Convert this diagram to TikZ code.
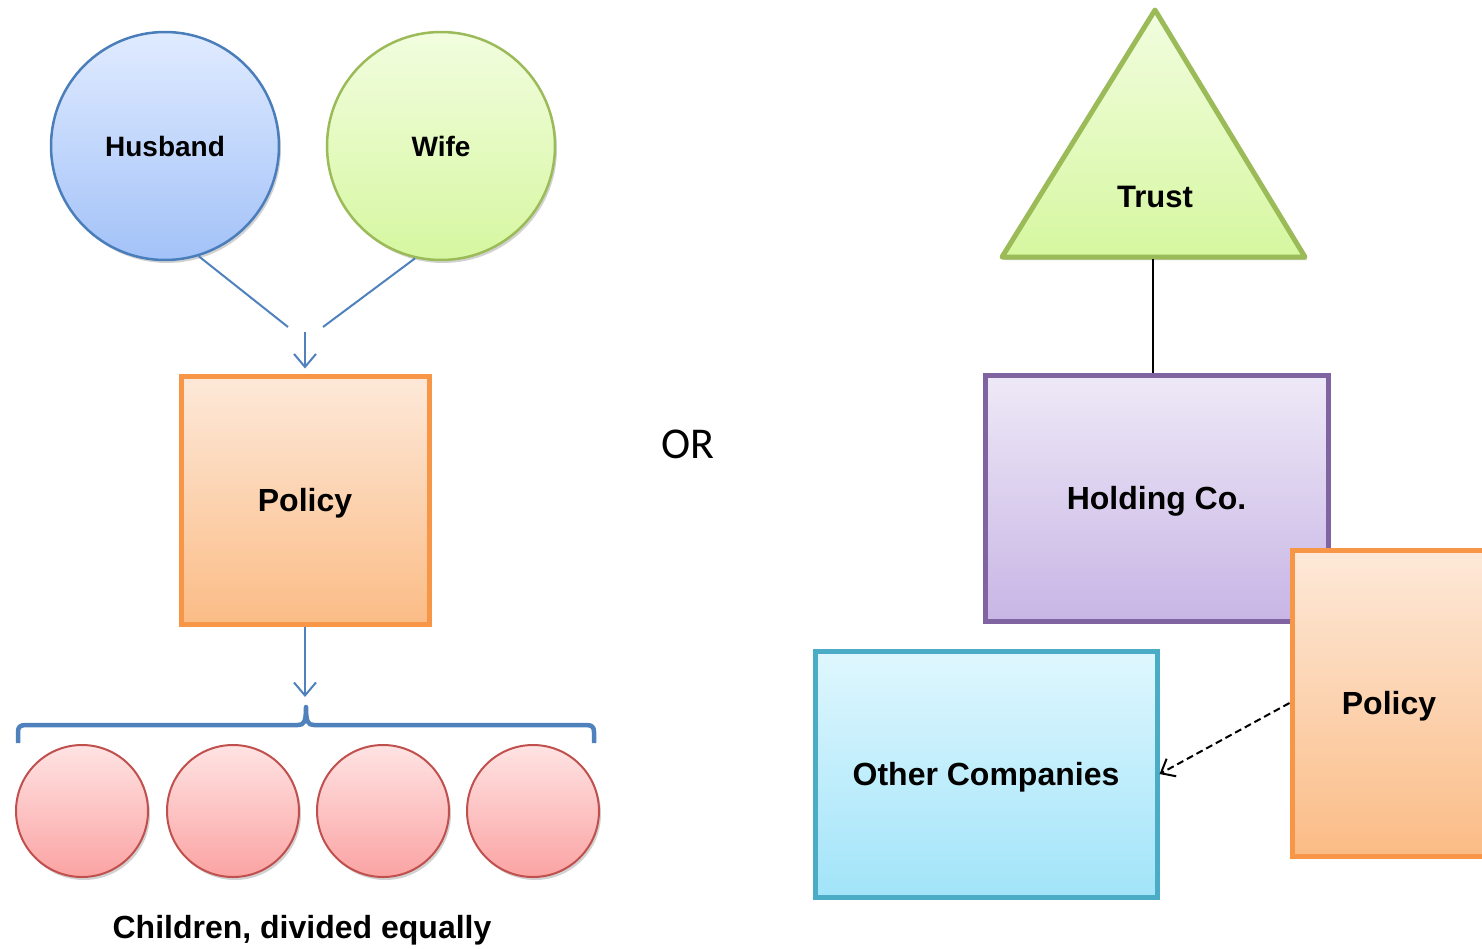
\documentclass[tikz,border=0pt]{standalone}
\usepackage{fontspec}
\setmainfont{Liberation Sans}
\newfontfamily\orfont{Carlito}
\usetikzlibrary{arrows.meta,shadows}
\definecolor{bluebd}{HTML}{4A7EBB}
\definecolor{greenbd}{HTML}{9BBB59}
\definecolor{orangebd}{HTML}{F79646}
\definecolor{purplebd}{HTML}{8064A2}
\definecolor{cyanbd}{HTML}{4BACC6}
\definecolor{redbd}{HTML}{C0504D}
\definecolor{blueT}{HTML}{E0EBFF}\definecolor{blueB}{HTML}{A3C2F8}
\definecolor{greenT}{HTML}{F2FDDF}\definecolor{greenB}{HTML}{D6F7A0}
\definecolor{orangeT}{HTML}{FDE9D9}\definecolor{orangeB}{HTML}{FBBC86}
\definecolor{purpleT}{HTML}{EEE9F7}\definecolor{purpleB}{HTML}{C8B5E5}
\definecolor{cyanT}{HTML}{DFF7FE}\definecolor{cyanB}{HTML}{A2E4F9}
\definecolor{redT}{HTML}{FFE3E3}\definecolor{redB}{HTML}{FBA3A3}
\definecolor{connblue}{HTML}{4F81BD}
\begin{document}
\begin{tikzpicture}[x=1pt,y=-1pt,
  shad/.style={drop shadow={opacity=0.25,shadow xshift=2pt,shadow yshift=-3pt,fill=black!70}},
  bigcirc/.style={circle,minimum size=228pt,inner sep=0pt,line width=2.5pt,shad,
    font=\bfseries\fontsize{28}{32}\selectfont},
  kidcirc/.style={circle,minimum size=132pt,inner sep=0pt,line width=2pt,shad,
    draw=redbd,top color=redT,bottom color=redB},
  boxnode/.style={rectangle,inner sep=0pt,line width=5pt,shad,text depth=0pt,
    font=\bfseries\fontsize{32}{38}\selectfont},
  conn/.style={draw=connblue,line width=2pt},
  arr/.style={conn,-{Straight Barb[length=13pt,width=22pt,line width=2pt]}},
]
\useasboundingbox (0,0) rectangle (1482,948);

% left part
\node[bigcirc,draw=bluebd,top color=blueT,bottom color=blueB] (husband) at (165,146) {Husband};
\node[bigcirc,draw=greenbd,top color=greenT,bottom color=greenB] (wife) at (441,146) {Wife};
\node[boxnode,draw=orangebd,top color=orangeT,bottom color=orangeB,minimum width=248pt,minimum height=248pt] (policyL) at (305,500) {Policy};

\coordinate (hj) at (288,327);
\coordinate (wj) at (323,327);
\coordinate (aj) at (305,332);
\draw[conn] (husband.-73) -- (hj);
\draw[conn] (wife.-103) -- (wj);
\draw[arr,shorten >=5pt] (aj) -- (policyL.north);

\coordinate (bt) at (305,697);
\draw[arr] (policyL.south) -- (bt);

\draw[draw=connblue,line width=4.5pt,line join=round]
  (18,743) -- (18,732) .. controls (18,727) and (20,725) .. (26,725) -- (298,725)
  .. controls (304,725) and (306,722) .. (306,707)
  .. controls (306,722) and (308,725) .. (314,725) -- (586,725)
  .. controls (592,725) and (594,727) .. (594,732) -- (594,743);

\node[kidcirc] (k1) at (82,811) {};
\node[kidcirc] (k2) at (233,811) {};
\node[kidcirc] (k3) at (383,811) {};
\node[kidcirc] (k4) at (533,811) {};
\node[font=\bfseries\fontsize{32}{38}\selectfont,text depth=0pt] (kids) at (302,927) {Children, divided equally};

% middle
\node[font=\orfont\fontsize{44}{50}\selectfont] (or) at (688,444) {OR};

% right part
\draw[line width=5pt,line join=round,draw=greenbd,top color=greenT,bottom color=greenB,shad]
  (1155,10) -- (1305,257) -- (1002,257) -- cycle;
\node[font=\bfseries\fontsize{31}{36}\selectfont] (trust) at (1155,197) {Trust};
\coordinate (trustbase) at (1153,259);

\node[boxnode,draw=purplebd,top color=purpleT,bottom color=purpleB,minimum width=343pt,minimum height=246pt] (holding) at (1156.5,498) {Holding Co.};
\draw[line width=2pt] (trustbase) -- (trustbase |- holding.north);

\node[boxnode,draw=cyanbd,top color=cyanT,bottom color=cyanB,minimum width=342pt,minimum height=246pt] (others) at (986,774) {Other Companies};
\node[boxnode,draw=orangebd,top color=orangeT,bottom color=orangeB,minimum width=194pt,minimum height=306pt] (policyR) at (1389,703) {Policy};

\draw[line width=2pt,dash pattern=on 7pt off 4pt,-{Straight Barb[length=12pt,width=20pt,line width=2pt]}] (policyR.west) -- (others.east);
\end{tikzpicture}
\end{document}
